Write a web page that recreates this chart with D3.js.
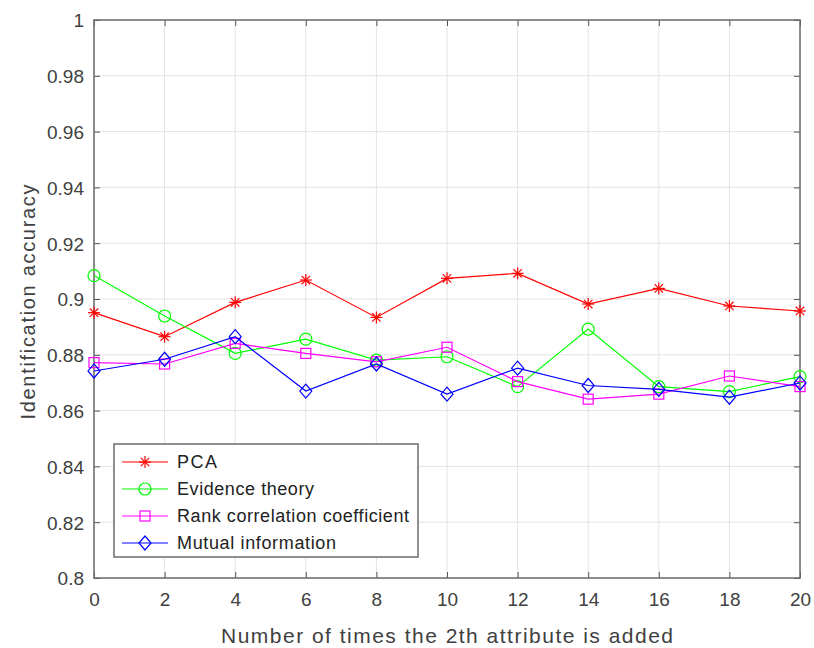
<!DOCTYPE html>
<html><head><meta charset="utf-8">
<script src="https://cdn.jsdelivr.net/npm/d3@7"></script>
<style>body{margin:0;background:#fff;}svg{display:block;font-family:"Liberation Sans",Arial,sans-serif;}</style>
</head><body><svg id="c" width="814" height="648"></svg>
<script>
const xValues = [0,2,4,6,8,10,12,14,16,18,20];
const pca = [0.8951,0.8865,0.8988,0.9068,0.8934,0.9074,0.9092,0.8982,0.9038,0.8975,0.8957];
const evidence = [0.9084,0.8939,0.8805,0.8856,0.8781,0.8793,0.8686,0.8892,0.8686,0.8668,0.8722];
const rank = [0.8772,0.8767,0.8841,0.8805,0.8775,0.8827,0.8704,0.8641,0.8659,0.8724,0.8686];
const mutual = [0.8742,0.8784,0.8865,0.8670,0.8767,0.8659,0.8752,0.8690,0.8676,0.8648,0.8699];
const seriesNames = ["PCA","Evidence theory","Rank correlation coefficient","Mutual information"];
const xTicks = [0,2,4,6,8,10,12,14,16,18,20];
const yTicks = [0.8,0.82,0.84,0.86,0.88,0.9,0.92,0.94,0.96,0.98,1];

const series = [
  {name:seriesNames[0], values:pca, color:"#ff0000", marker:"star"},
  {name:seriesNames[1], values:evidence, color:"#00ff00", marker:"circle"},
  {name:seriesNames[2], values:rank, color:"#ff00ff", marker:"square"},
  {name:seriesNames[3], values:mutual, color:"#0000ff", marker:"diamond"}
];

const L=94,R=800,T=20,B=578;
const svg=d3.select("#c");
const x=d3.scaleLinear().domain([0,20]).range([L,R]);
const y=d3.scaleLinear().domain([0.8,1]).range([B,T]);
const fmt=d=>d3.format("~g")(+d.toFixed(2));

// grid
const g=svg.append("g");
g.selectAll(".gx").data(xTicks).join("line").attr("x1",d=>x(d)).attr("x2",d=>x(d)).attr("y1",T).attr("y2",B).attr("stroke","#e3e3e3").attr("stroke-width",1);
g.selectAll(".gy").data(yTicks).join("line").attr("y1",d=>y(d)).attr("y2",d=>y(d)).attr("x1",L).attr("x2",R).attr("stroke","#e3e3e3").attr("stroke-width",1);

// axes
const ax=svg.append("g").attr("transform",`translate(0,${B})`).call(d3.axisBottom(x).tickValues(xTicks).tickSize(-6).tickPadding(14).tickFormat(fmt));
const ay=svg.append("g").attr("transform",`translate(${L},0)`).call(d3.axisLeft(y).tickValues(yTicks).tickSize(-6).tickPadding(10).tickFormat(fmt));
const at=svg.append("g").attr("transform",`translate(0,${T})`).call(d3.axisTop(x).tickValues(xTicks).tickSize(-6).tickFormat(""));
const ar=svg.append("g").attr("transform",`translate(${R},0)`).call(d3.axisRight(y).tickValues(yTicks).tickSize(-6).tickFormat(""));
[ax,ay,at,ar].forEach(a=>{a.select(".domain").remove();a.selectAll("line").attr("stroke","#555");a.selectAll("text").attr("fill","#404040").attr("font-size",19).attr("font-family","Liberation Sans, Arial, sans-serif");});
ay.selectAll("text").attr("dy","0.36em");
ax.selectAll("text").attr("dy","0.74em");
svg.append("rect").attr("x",L).attr("y",T).attr("width",R-L).attr("height",B-T).attr("fill","none").attr("stroke","#6b6b6b").attr("stroke-width",1.5);

// lines
const line=d3.line().x((d,i)=>x(xValues[i])).y(d=>y(d));
function drawMarker(sel,type,color,cx,cy){
  const m=sel.append("g").attr("transform",`translate(${cx},${cy})`);
  if(type==="star"){
    const r=6;
    [[0,-r,0,r],[-r,0,r,0],[-r*0.7,-r*0.7,r*0.7,r*0.7],[-r*0.7,r*0.7,r*0.7,-r*0.7]].forEach(s=>m.append("line").attr("x1",s[0]).attr("y1",s[1]).attr("x2",s[2]).attr("y2",s[3]).attr("stroke",color).attr("stroke-width",1.2));
  } else if(type==="circle"){
    m.append("circle").attr("r",6).attr("fill","none").attr("stroke",color).attr("stroke-width",1.2);
  } else if(type==="square"){
    m.append("rect").attr("x",-5).attr("y",-5).attr("width",10).attr("height",10).attr("fill","none").attr("stroke",color).attr("stroke-width",1.2);
  } else {
    m.append("path").attr("d","M0,-7L6,0L0,7L-6,0Z").attr("fill","none").attr("stroke",color).attr("stroke-width",1.2);
  }
}
series.forEach(s=>{
  svg.append("path").datum(s.values).attr("d",line).attr("fill","none").attr("stroke",s.color).attr("stroke-width",1.2);
  const mg=svg.append("g");
  s.values.forEach((v,i)=>drawMarker(mg,s.marker,s.color,x(xValues[i]),y(v)));
});

// legend
const legendLens=[40,137,232,159];
const lg=svg.append("g");
lg.append("rect").attr("x",114).attr("y",444).attr("width",304).attr("height",113).attr("fill","#fff").attr("stroke","#6b6b6b").attr("stroke-width",1.5);
series.forEach((s,i)=>{
  const yy=462+i*27;
  lg.append("line").attr("x1",122).attr("x2",168).attr("y1",yy).attr("y2",yy).attr("stroke",s.color).attr("stroke-width",1.2);
  drawMarker(lg,s.marker,s.color,145,yy);
  lg.append("text").attr("x",177).attr("y",yy).attr("dy","0.36em").attr("font-size",18).attr("fill","#222")
    .attr("textLength",legendLens[i]).attr("lengthAdjust","spacing").text(s.name);
});

// titles
svg.append("text").attr("x",447).attr("y",643).attr("text-anchor","middle").attr("font-size",21).attr("fill","#404040")
  .attr("textLength",452).attr("lengthAdjust","spacing").text("Number of times the 2th attribute is added");
svg.append("text").attr("transform","translate(35,302) rotate(-90)").attr("text-anchor","middle").attr("font-size",20).attr("fill","#404040")
  .attr("textLength",235).attr("lengthAdjust","spacing").text("Identification accuracy");
</script></body></html>
